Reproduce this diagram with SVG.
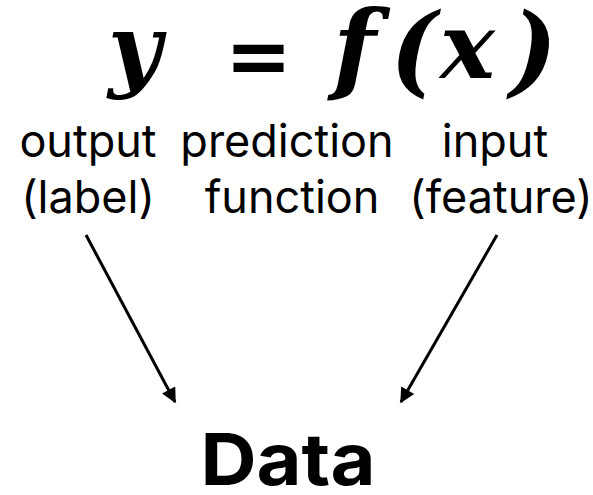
<svg xmlns="http://www.w3.org/2000/svg" width="593" height="495" viewBox="0 0 593 495">
<style>
.eq{font-family:"DejaVu Serif","Liberation Serif",serif;font-weight:bold;font-style:italic;font-size:92px;fill:#000}
.par{font-size:100px}
.eqn{font-family:"DejaVu Sans","Liberation Sans",sans-serif;font-weight:bold;font-size:80px;fill:#000}
.lbl{font-family:Inter,Roboto,"Liberation Sans",sans-serif;font-size:45px;fill:#000;text-anchor:middle}
.big{font-family:Inter,Roboto,"Liberation Sans",sans-serif;font-weight:bold;font-size:72px;fill:#000;text-anchor:middle}
.arr{stroke:#000;stroke-width:3;fill:none;marker-end:url(#ah)}
</style>
<defs>
<marker id="ah" viewBox="0 0 10 10" refX="9" refY="5" markerWidth="5.5" markerHeight="5" orient="auto" markerUnits="strokeWidth">
<path d="M0,0 L10,5 L0,10 z" fill="#000"/>
</marker>
</defs>
<rect width="593" height="495" fill="#fff"/>
<g id="equation">
<text class="eq" x="108" y="80">y</text>
<text class="eqn" x="225" y="84">=</text>
<text class="eq par" x="333" y="82">f</text>
<text class="eq par" x="390" y="84">(</text>
<text class="eq" x="440" y="78">x</text>
<text class="eq par" x="510" y="84">)</text>
</g>
<g id="output">
<text class="lbl" x="88" y="157">output</text>
<text class="lbl" x="88" y="213">(label)</text>
</g>
<g id="function">
<text class="lbl" x="287" y="157">prediction</text>
<text class="lbl" x="292" y="213">function</text>
</g>
<g id="input">
<text class="lbl" x="495" y="157">input</text>
<text class="lbl" x="501" y="213">(feature)</text>
</g>
<g id="data">
<text class="big" x="288" y="485" textLength="175" lengthAdjust="spacingAndGlyphs">Data</text>
</g>
<g id="connectors">
<line class="arr" x1="86" y1="235" x2="175" y2="402"/>
<line class="arr" x1="497" y1="235" x2="401" y2="402"/>
</g>
</svg>
